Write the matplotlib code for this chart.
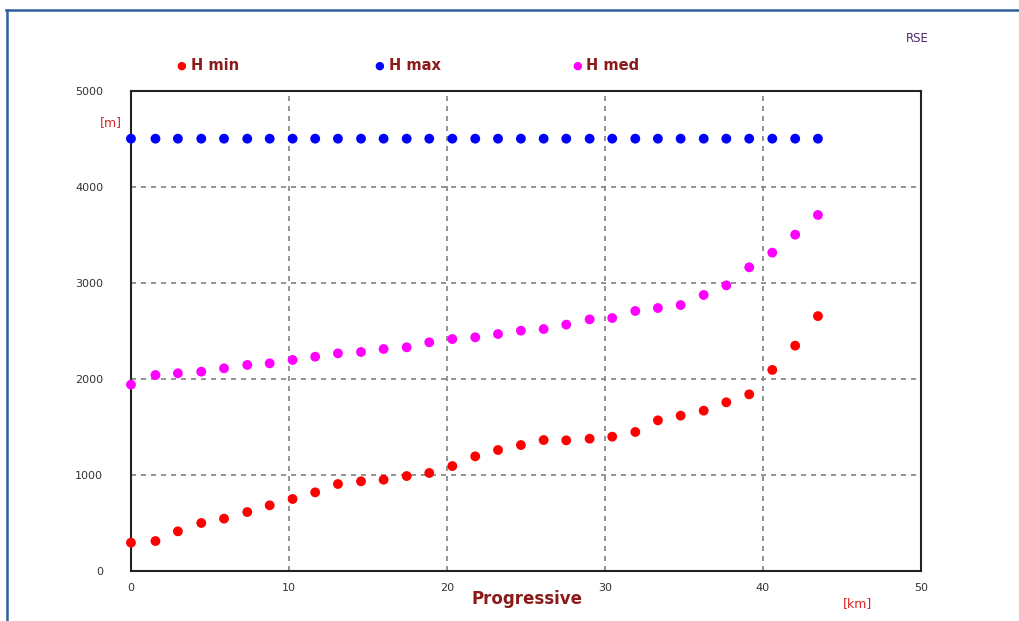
import matplotlib.pyplot as plt
from matplotlib.lines import Line2D

# progressive distance [km]
km = [0.0, 1.55, 2.97, 4.45, 5.89, 7.36, 8.78, 10.23, 11.66, 13.1, 14.56,
      15.99, 17.45, 18.88, 20.34, 21.79, 23.23, 24.68, 26.12, 27.55, 29.03,
      30.46, 31.92, 33.35, 34.79, 36.25, 37.68, 39.13, 40.59, 42.04, 43.48]

h_min = [292, 309, 410, 497, 542, 611, 681, 747, 816, 903, 931, 948, 986,
         1018, 1090, 1191, 1257, 1309, 1361, 1358, 1375, 1396, 1445, 1566,
         1615, 1667, 1754, 1837, 2091, 2344, 2652]

h_max = [4500] * 31

h_med = [1938, 2038, 2056, 2073, 2108, 2143, 2160, 2195, 2229, 2264, 2278,
         2309, 2327, 2379, 2413, 2431, 2465, 2500, 2517, 2563, 2618, 2632,
         2705, 2736, 2767, 2872, 2972, 3160, 3313, 3500, 3705]

x_ticks = [0, 10, 20, 30, 40, 50]
y_ticks = [0, 1000, 2000, 3000, 4000, 5000]

series = [("H min", h_min, "#ff0000"),
          ("H max", h_max, "#0000ff"),
          ("H med", h_med, "#ff00ff")]

fig = plt.figure(figsize=(10.2, 6.21), dpi=100)
ax = fig.add_axes([0.1284, 0.081, 0.7745, 0.773])

for name, vals, col in series:
    ax.scatter(km, vals, s=50, color=col, edgecolors="none", zorder=3, clip_on=False)

ax.set_xlim(0, 50)
ax.set_ylim(0, 5000)
ax.set_xticks(x_ticks)
ax.set_yticks(y_ticks)
ax.tick_params(length=0, labelsize=8, colors="#333333")
ax.tick_params(axis="y", pad=20)
ax.tick_params(axis="x", pad=9)
ax.grid(True, linestyle=(0, (3, 3)), color="#808080", linewidth=1.2)
for sp in ax.spines.values():
    sp.set_linewidth(1.5)
    sp.set_color("#222222")

# legend-like labels on top
leg_x = [0.178, 0.372, 0.566]
for (name, vals, col), lx in zip(series, leg_x):
    fig.text(lx, 0.894, "\u25cf", color=col, fontsize=8, ha="center", va="center")
    fig.text(lx + 0.009, 0.894, name, color="#8b1a1a", fontsize=10.5,
             fontweight="bold", ha="left", va="center")

fig.text(0.888, 0.938, "RSE", color="#4a2a6a", fontsize=8.5, ha="left", va="center")
fig.text(0.098, 0.803, "[m]", color="#dd2222", fontsize=9, ha="left", va="center")
fig.text(0.517, 0.035, "Progressive", color="#8b1a1a", fontsize=12,
         fontweight="bold", ha="center", va="center")
fig.text(0.841, 0.028, "[km]", color="#dd2222", fontsize=9, ha="center", va="center")

# outer frame (top and left edges)
fig.add_artist(Line2D([0.006, 1.0], [0.984, 0.984], color="#2f5f9f", linewidth=1.8))
fig.add_artist(Line2D([0.0065, 0.0065], [0.0, 0.984], color="#2f5f9f", linewidth=1.8))

fig.savefig("out.png", dpi=100)
